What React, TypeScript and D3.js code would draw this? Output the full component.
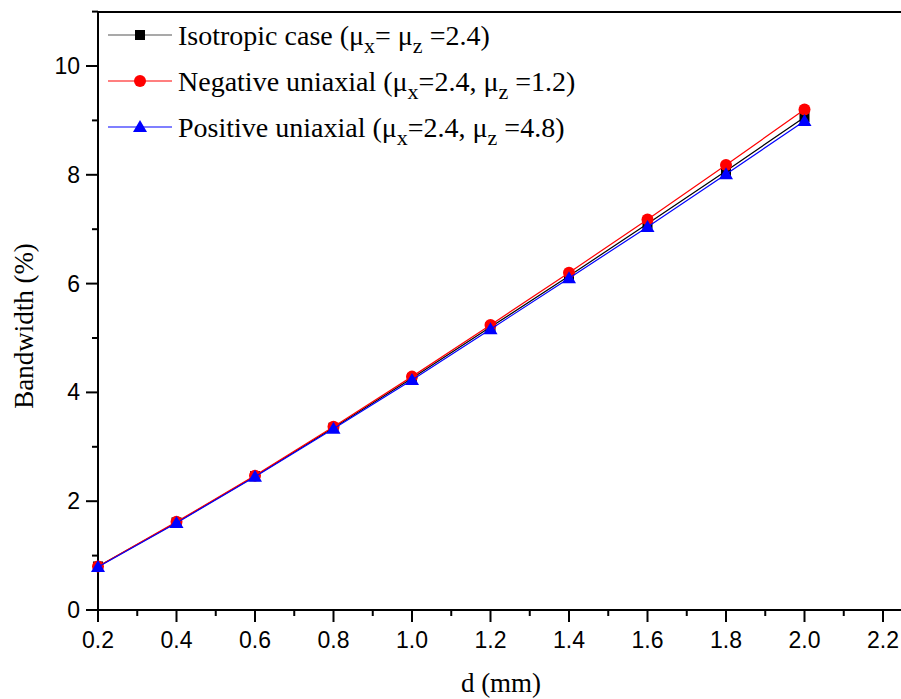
import { useEffect, useRef } from 'react'
import * as d3 from 'd3'

// d (mm)
const thickness = [0.2, 0.4, 0.6, 0.8, 1.0, 1.2, 1.4, 1.6, 1.8, 2.0]
// bandwidth (%)
const isotropic = [0.8, 1.61, 2.46, 3.35, 4.26, 5.2, 6.14, 7.1, 8.07, 9.06]
const negativeUni = [0.8, 1.62, 2.47, 3.37, 4.29, 5.24, 6.2, 7.18, 8.18, 9.2]
const positiveUni = [0.79, 1.6, 2.45, 3.33, 4.23, 5.16, 6.1, 7.04, 8.01, 8.99]

const xTicks = [0.2, 0.4, 0.6, 0.8, 1.0, 1.2, 1.4, 1.6, 1.8, 2.0, 2.2]
const yTicks = [0, 2, 4, 6, 8, 10]

const SERIES = [
  { name: 'iso', values: isotropic, color: '#000000', marker: 'square', legend: ['Isotropic case (μ', 'x', '= μ', 'z', ' =2.4)'] },
  { name: 'neg', values: negativeUni, color: '#FF0000', marker: 'circle', legend: ['Negative uniaxial (μ', 'x', '=2.4, μ', 'z', ' =1.2)'] },
  { name: 'pos', values: positiveUni, color: '#0000FF', marker: 'triangle', legend: ['Positive uniaxial (μ', 'x', '=2.4, μ', 'z', ' =4.8)'] },
]

const SANS = "'Liberation Sans', Arial, sans-serif"
const SERIF = "'Liberation Serif', 'Times New Roman', serif"
const W = 901
const H = 699

export default function App() {
  const svgRef = useRef<SVGSVGElement>(null)

  useEffect(() => {
    const el = svgRef.current
    if (!el) return
    d3.select(el).selectAll('*').remove()
    const svg = d3.select(el)

    const left = 98, top = 12, bottom = 610, right = 901
    const x = d3.scaleLinear().domain([0.2, 2.2]).range([left, 883])
    const y = d3.scaleLinear().domain([0, 10]).range([bottom, 66])

    // frame
    svg.append('line').attr('x1', left).attr('x2', right).attr('y1', top).attr('y2', top)
      .attr('stroke', '#000').attr('stroke-width', 2)

    // x axis
    const xAxis = svg.append('g')
    xAxis.append('line').attr('x1', left - 12).attr('x2', right).attr('y1', bottom).attr('y2', bottom)
      .attr('stroke', '#000').attr('stroke-width', 2)
    xTicks.forEach((t) => {
      xAxis.append('line').attr('x1', x(t)).attr('x2', x(t)).attr('y1', bottom).attr('y2', bottom + 12)
        .attr('stroke', '#000').attr('stroke-width', 2)
      xAxis.append('text').attr('x', x(t)).attr('y', 648).attr('text-anchor', 'middle')
        .style('font-family', SANS).style('font-size', '23px')
        .text(t.toFixed(1))
    })
    xTicks.slice(0, -1).forEach((t) => {
      const m = t + 0.1
      xAxis.append('line').attr('x1', x(m)).attr('x2', x(m)).attr('y1', bottom).attr('y2', bottom + 6)
        .attr('stroke', '#000').attr('stroke-width', 2)
    })

    // y axis
    const yAxis = svg.append('g')
    yAxis.append('line').attr('x1', left).attr('x2', left).attr('y1', top - 1).attr('y2', bottom + 12)
      .attr('stroke', '#000').attr('stroke-width', 2)
    yTicks.forEach((t) => {
      yAxis.append('line').attr('x1', left - 12).attr('x2', left).attr('y1', y(t)).attr('y2', y(t))
        .attr('stroke', '#000').attr('stroke-width', 2)
      yAxis.append('text').attr('x', 80).attr('y', y(t) + 8).attr('text-anchor', 'end')
        .style('font-family', SANS).style('font-size', '23px')
        .text(t)
    })
    yTicks.forEach((t) => {
      const m = t + 1
      yAxis.append('line').attr('x1', left - 6).attr('x2', left).attr('y1', y(m)).attr('y2', y(m))
        .attr('stroke', '#000').attr('stroke-width', 2)
    })

    // axis titles
    svg.append('text').attr('transform', `translate(33,326) rotate(-90)`).attr('text-anchor', 'middle')
      .style('font-family', SERIF).style('font-size', '27px')
      .text('Bandwidth (%)')
    svg.append('text').attr('x', 501).attr('y', 692).attr('text-anchor', 'middle')
      .style('font-family', SERIF).style('font-size', '27px')
      .text('d (mm)')

    const drawMarker = (g: any, kind: string, cx: number, cy: number, color: string) => {
      if (kind === 'square') {
        g.append('rect').attr('x', cx - 5).attr('y', cy - 5).attr('width', 10).attr('height', 10).attr('fill', color)
      } else if (kind === 'circle') {
        g.append('circle').attr('cx', cx).attr('cy', cy).attr('r', 6).attr('fill', color)
      } else {
        g.append('path').attr('d', `M${cx},${cy - 7}L${cx + 7},${cy + 5}L${cx - 7},${cy + 5}Z`).attr('fill', color)
      }
    }

    const line = d3.line<number>().x((_, i) => x(thickness[i])).y((d) => y(d))

    SERIES.forEach((s) => {
      const g = svg.append('g')
      g.append('path').attr('d', line(s.values)).attr('fill', 'none').attr('stroke', s.color).attr('stroke-width', 1.2)
      s.values.forEach((v, i) => drawMarker(g, s.marker, x(thickness[i]), y(v), s.color))
    })

    // legend
    const rows = [35, 81, 127]
    SERIES.forEach((s, i) => {
      const g = svg.append('g')
      g.append('line').attr('x1', 108).attr('x2', 172).attr('y1', rows[i]).attr('y2', rows[i])
        .attr('stroke', s.name === 'iso' ? '#555' : s.color).attr('stroke-width', 1.2)
      drawMarker(g, s.marker, 140, rows[i], s.color)
      const txt = g.append('text').attr('x', 178).attr('y', rows[i] + 10)
        .style('font-family', SERIF).style('font-size', '28px')
      s.legend.forEach((part, k) => {
        const sub = k % 2 === 1
        const ts = txt.append('tspan').text(part)
        if (sub) ts.attr('dy', 8).style('font-size', '22px')
        else if (k > 0) ts.attr('dy', -8)
      })
    })
  }, [])

  return (
    <svg ref={svgRef} width={W} height={H}
      style={{ position: 'absolute', left: 0, top: 0, background: '#fff' }} />
  )
}
